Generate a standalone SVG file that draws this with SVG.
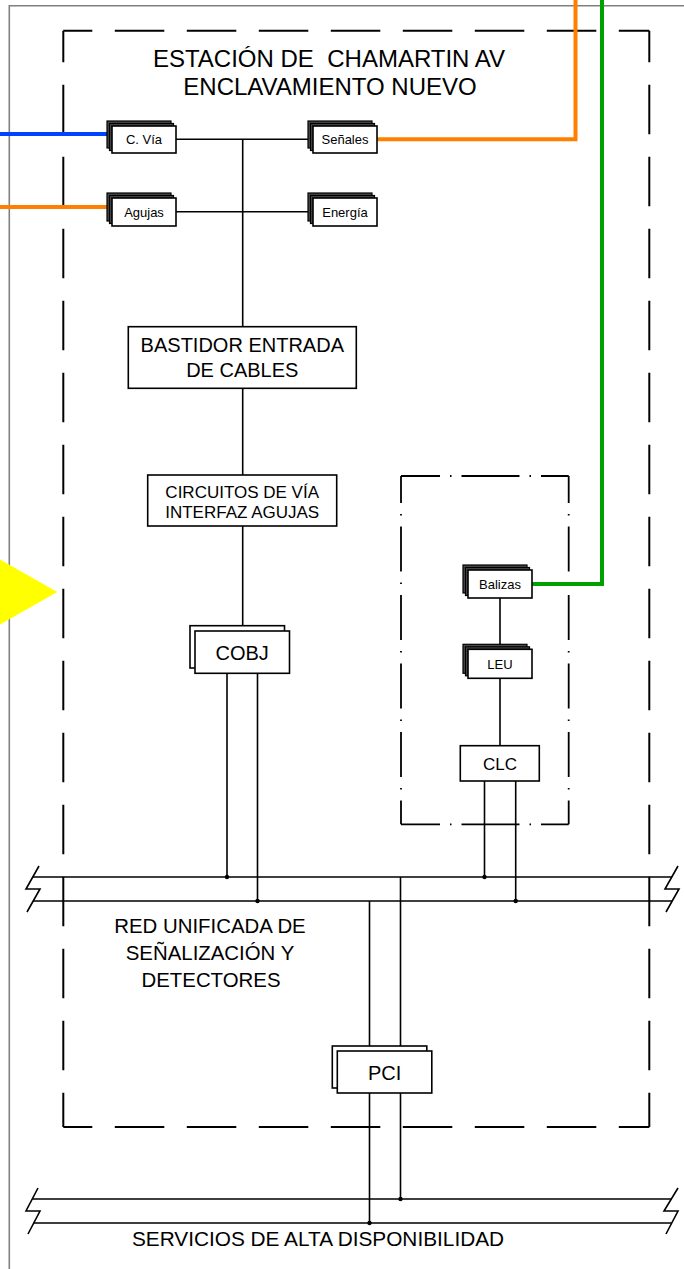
<svg xmlns="http://www.w3.org/2000/svg" width="684" height="1269" viewBox="0 0 684 1269">
<style>
.ln{stroke:#000;stroke-width:1.6;fill:none}
.box{fill:#fff;stroke:#000;stroke-width:1.6}
.sh{fill:#4a4a4a;stroke:#000;stroke-width:1.2}
.t{font-family:"Liberation Sans",Arial,sans-serif;fill:#000;text-anchor:middle;white-space:pre}
.dash{stroke:#000;stroke-width:2;fill:none;stroke-dasharray:49.5 22.5}
.dd{stroke:#000;stroke-width:1.8;fill:none}
.col{fill:none;stroke-width:4}
.dot{fill:#000}
</style>
<rect width="684" height="1269" fill="#fff"/>
<!-- outer frame -->
<path d="M684 5.7 H9.3 V1269" fill="none" stroke="#808080" stroke-width="1.6"/>
<!-- station dashed boundary -->
<g id="station-boundary">
<line class="dash" x1="63.3" y1="30.7" x2="649.3" y2="30.7" stroke-dashoffset="20.5"/>
<line class="dash" x1="63.3" y1="1127" x2="649.3" y2="1127" stroke-dashoffset="20.5"/>
<line class="dash" x1="63.3" y1="30.7" x2="63.3" y2="1127" stroke-dashoffset="17.9"/>
<line class="dash" x1="649.3" y1="30.7" x2="649.3" y2="1127" stroke-dashoffset="17.9"/>
</g>
<!-- balise group dash-dot boundary -->
<g id="balise-boundary">
<line class="dd" x1="401" y1="476" x2="568.7" y2="476" stroke-dasharray="58 10 1.5 10" stroke-dashoffset="19"/>
<line class="dd" x1="401" y1="824.3" x2="568.7" y2="824.3" stroke-dasharray="58 10 1.5 10" stroke-dashoffset="19"/>
<line class="dd" x1="401" y1="476" x2="401" y2="824.3" stroke-dasharray="45 11 1.5 11" stroke-dashoffset="18"/>
<line class="dd" x1="568.7" y1="476" x2="568.7" y2="824.3" stroke-dasharray="45 11 1.5 11" stroke-dashoffset="18"/>
</g>
<g id="title">
<text class="t" x="329" y="66.5" font-size="24" xml:space="preserve">ESTACIÓN DE  CHAMARTIN AV</text>
<text class="t" x="330" y="95" font-size="24">ENCLAVAMIENTO NUEVO</text>
</g>
<g id="connectors">
<path class="ln" d="M176 139.3 H313 M176 211.7 H313 M242.7 139.3 V326.7 M242.7 388.3 V475 M242.7 526 V625.7"/>
<path class="ln" d="M227 673 V877 M257.5 673 V901"/>
<path class="ln" d="M500 598 V644.5 M500 678 V745.7 M484.5 781 V877 M515.7 781 V901"/>
<path class="ln" d="M369.5 901 V1046 M400.5 877 V1046 M369.5 1093 V1223 M400.5 1093 V1199"/>
<g id="bus-red">
<path class="ln" d="M33 877 H672 M33 901 H672"/>
<path class="ln" d="M39 866 L26 889 L40 889 L27 912 M678 866 L665 889 L679 889 L666 912"/>
</g>
<g id="bus-servicios">
<path class="ln" d="M32.5 1199 H671.5 M33.5 1223 H671.5"/>
<path class="ln" d="M38 1188 L26 1211 L40 1211 L28 1234 M678 1188 L664 1211 L678 1211 L666 1234"/>
</g>
<circle class="dot" cx="227" cy="877" r="2.2"/>
<circle class="dot" cx="257.5" cy="901" r="2.2"/>
<circle class="dot" cx="484.5" cy="877" r="2.2"/>
<circle class="dot" cx="515.7" cy="901" r="2.2"/>
<circle class="dot" cx="400.5" cy="1199" r="2.2"/>
<circle class="dot" cx="369.5" cy="1223" r="2.2"/>
<path class="col" stroke="#0044ff" d="M0 134 H108"/>
<path class="col" stroke="#ff8000" d="M0 207 H108"/>
<path class="col" stroke="#ff8000" d="M377 139.3 H575.5 V0"/>
<path class="col" stroke="#00a000" d="M532 584 H602 V0"/>
</g>
<polygon id="marker-triangle" points="57.3,592 -6,556 -6,628" fill="#ffff00"/>
<g id="cvia">
<rect class="sh" x="107" y="121" width="64" height="27"/>
<rect class="sh" x="109.5" y="123.5" width="64" height="27"/>
<rect class="box" x="112" y="126" width="64" height="27"/>
<text class="t" x="144" y="144.3" font-size="13">C. Vía</text>
</g>
<g id="senales">
<rect class="sh" x="308" y="121" width="64" height="27"/>
<rect class="sh" x="310.5" y="123.5" width="64" height="27"/>
<rect class="box" x="313" y="126" width="64" height="27"/>
<text class="t" x="345" y="144.3" font-size="13">Señales</text>
</g>
<g id="agujas">
<rect class="sh" x="107" y="193" width="64" height="28"/>
<rect class="sh" x="109.5" y="195.5" width="64" height="28"/>
<rect class="box" x="112" y="198" width="64" height="28"/>
<text class="t" x="144" y="216.5" font-size="13">Agujas</text>
</g>
<g id="energia">
<rect class="sh" x="308" y="193" width="64" height="28"/>
<rect class="sh" x="310.5" y="195.5" width="64" height="28"/>
<rect class="box" x="313" y="198" width="64" height="28"/>
<text class="t" x="345" y="216.5" font-size="13">Energía</text>
</g>
<g id="bastidor">
<rect class="box" x="128.3" y="326.7" width="228" height="61.6"/>
<text class="t" x="242.3" y="351.7" font-size="20">BASTIDOR ENTRADA</text>
<text class="t" x="242.3" y="376.7" font-size="20">DE CABLES</text>
</g>
<g id="circuitos">
<rect class="box" x="147.7" y="475" width="189" height="51"/>
<text class="t" x="242.2" y="498" font-size="17">CIRCUITOS DE VÍA</text>
<text class="t" x="242.2" y="518" font-size="17">INTERFAZ AGUJAS</text>
</g>
<g id="cobj">
<rect class="box" x="190" y="625.7" width="94.5" height="42.3"/>
<rect class="box" x="195" y="631" width="94.5" height="42.3"/>
<text class="t" x="242.2" y="659.5" font-size="20">COBJ</text>
</g>
<g id="balizas">
<rect class="sh" x="463" y="565" width="64" height="28"/>
<rect class="sh" x="465.5" y="567.5" width="64" height="28"/>
<rect class="box" x="468" y="570" width="64" height="28"/>
<text class="t" x="500" y="589.3" font-size="13">Balizas</text>
</g>
<g id="leu">
<rect class="sh" x="463" y="644.3" width="64" height="29"/>
<rect class="sh" x="465.5" y="646.8" width="64" height="29"/>
<rect class="box" x="468" y="649.3" width="64" height="29"/>
<text class="t" x="500" y="669" font-size="13">LEU</text>
</g>
<g id="clc">
<rect class="box" x="460.3" y="745.7" width="79" height="35.3"/>
<text class="t" x="500" y="770" font-size="17">CLC</text>
</g>
<g id="red-label">
<text class="t" x="210" y="933" font-size="20.4">RED UNIFICADA DE</text>
<text class="t" x="210" y="960" font-size="20.4">SEÑALIZACIÓN Y</text>
<text class="t" x="211" y="987" font-size="20.4">DETECTORES</text>
</g>
<g id="pci">
<rect class="box" x="332.3" y="1046" width="94.5" height="42"/>
<rect class="box" x="337.3" y="1051" width="94.5" height="42"/>
<text class="t" x="384.7" y="1079.5" font-size="20">PCI</text>
</g>
<g id="servicios-label">
<text class="t" x="318" y="1245.5" font-size="20.8">SERVICIOS DE ALTA DISPONIBILIDAD</text>
</g>
</svg>
